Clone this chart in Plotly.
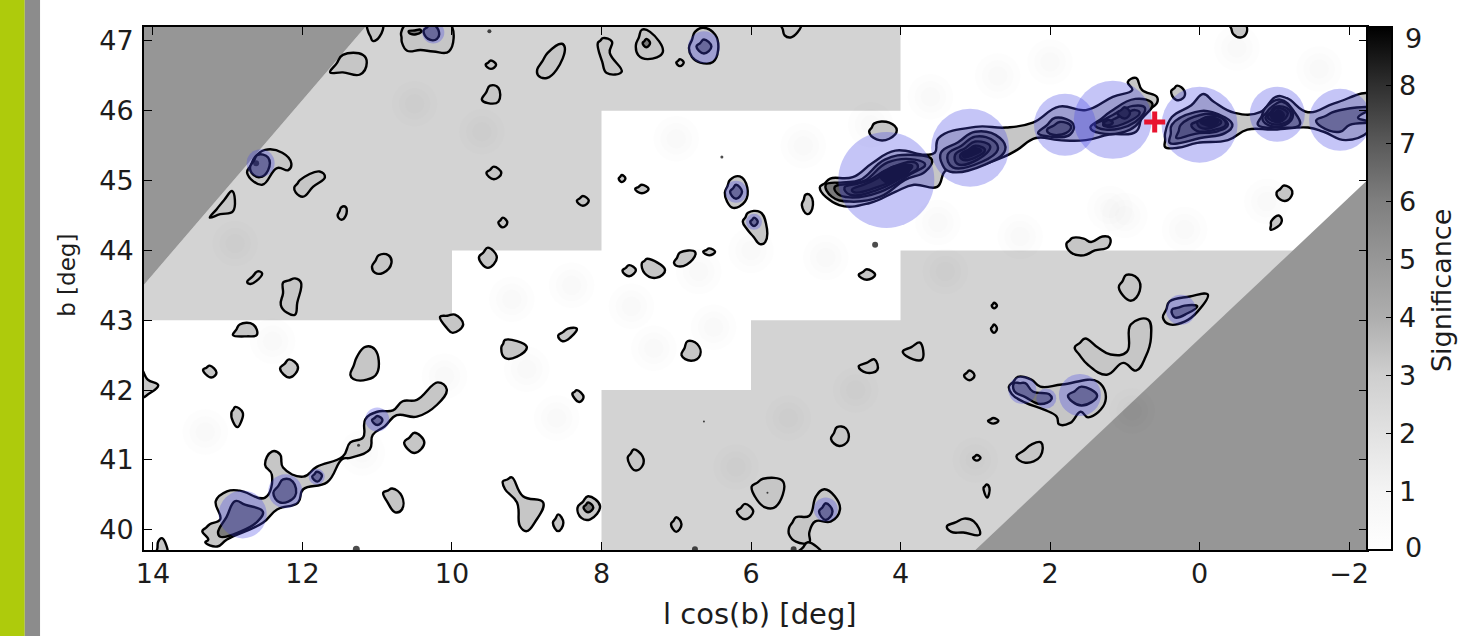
import plotly.graph_objects as go

# ---------- axes ----------
L_RANGE = [14.12, -2.24]
B_RANGE = [39.71, 47.2]
L_TICKS = [14, 12, 10, 8, 6, 4, 2, 0, -2]
B_TICKS = [40, 41, 42, 43, 44, 45, 46, 47]
SIG_TICKS = [0, 1, 2, 3, 4, 5, 6, 7, 8, 9]
SIG_LABELS = ["", "1", "2", "3", "4", "5", "6", "7", "8", ""]

# ---------- exposure regions (l, b) ----------
REGION_LIGHT_A = [(14.12, 43), (10, 43), (10, 44), (8, 44), (8, 46), (4, 46), (4, 47.2), (11.16, 47.2), (14.12, 43.51)]
REGION_LIGHT_B = [(8, 39.71), (8, 42), (6, 42), (6, 43), (4, 43), (4, 44), (-1.28, 44), (3, 39.71)]
REGION_DARK_A = [(14.12, 47.2), (11.16, 47.2), (14.12, 43.51)]
REGION_DARK_B = [(3, 39.71), (-2.24, 45.0), (-2.24, 39.71)]

# ---------- faint noise patches ----------
NOISE_L = [3.6, 2.7, 2.0, 1.2, 0.2, -0.9, -1.6, 3.5, 2.4, 1.0, 5.0, 6.7, 7.6, 9.2, 9.0, 7.3, 6.5, 13.3, 12.4, 11.2, 10.1, 8.6, 6.0, 4.6, 3.4, 0.9, -0.5, 10.5, 12.9, 7.0, 5.3, 4.4, 3.0, 8.4, 9.6, 6.2, 5.5]
NOISE_B = [46.2, 46.5, 46.7, 44.6, 44.3, 44.7, 46.6, 44.4, 44.2, 44.5, 43.9, 43.7, 43.2, 43.3, 42.3, 42.6, 42.9, 41.4, 42.7, 41.1, 42.2, 41.6, 44.0, 42.0, 43.7, 41.7, 46.9, 46.1, 44.1, 45.6, 45.5, 45.8, 41.0, 43.5, 45.7, 40.9, 41.6]
NOISE_SIZES = [46, 32, 20]

# ---------- significance contours, level 1 ----------
RIDGE_NORTH_WEST = [(5.08,44.9),(4.94,45.03),(4.64,45.05),(4.38,45.25),(4.07,45.43),(3.67,45.37),(3.54,45.4),(3.49,45.61),(3.0,45.77),(2.59,45.76),(2.23,45.83),(1.88,46.06),(1.52,46.01),(1.16,46.2),(0.9,46.3),(0.96,46.41),(0.85,46.47),(0.77,46.3),(0.57,46.2),(0.57,46.11),(0.76,45.94),(0.85,45.7),(1.21,45.66),(1.52,45.58),(1.88,45.58),(2.19,45.61),(2.44,45.44),(2.62,45.34),(3.06,45.18),(3.39,45.15),(3.51,44.91),(3.82,44.94),(4.07,44.84),(4.41,44.68),(4.82,44.65)]
RIDGE_NORTH_EAST = [(0.46,45.48),(0.46,45.68),(0.37,45.91),(0.11,46.08),(-0.05,46.24),(-0.19,46.13),(-0.47,45.97),(-0.81,45.98),(-1.02,46.2),(-1.17,46.18),(-1.45,45.98),(-1.81,46.11),(-2.3,46.23),(-2.3,45.76),(-1.96,45.58),(-1.66,45.7),(-1.45,45.76),(-1.0,45.73),(-0.64,45.73),(-0.38,45.58),(0.03,45.54),(0.29,45.47)]
RIDGE_SOUTH = [(13.34,39.98),(13.24,40.08),(13.1,40.15),(13.16,40.41),(13.01,40.55),(12.84,40.56),(12.5,40.46),(12.41,40.79),(12.5,40.93),(12.41,41.12),(12.3,41.08),(12.26,40.89),(11.99,40.76),(11.81,40.9),(11.46,41.05),(11.36,41.25),(11.19,41.32),(11.16,41.58),(11.0,41.69),(10.79,41.71),(10.66,41.84),(10.47,41.86),(10.19,42.11),(10.07,42.01),(10.2,41.79),(10.47,41.62),(10.74,41.64),(10.9,41.48),(11.06,41.36),(11.1,41.15),(11.36,41.03),(11.47,41.01),(11.67,40.68),(11.99,40.58),(12.06,40.39),(12.34,40.29),(12.53,40.1),(13.01,39.86),(13.14,39.76),(13.3,39.82),(13.26,39.86)]
BLOBS_LEVEL1 = [
 [(11.63,46.55),(11.46,46.8),(11.19,46.8),(11.14,46.69),(11.23,46.52),(11.46,46.55)],
 [(11.12,47.13),(11.06,47.0),(10.97,47.06),(10.93,47.25),(11.13,47.25)],
 [(10.68,47.12),(10.67,46.98),(10.6,46.86),(10.42,46.87),(10.25,46.85),(10.04,46.85),(10.03,47.25),(10.6,47.25)],
 [(4.42,45.7),(4.35,45.82),(4.15,45.83),(4.05,45.72),(4.15,45.6),(4.32,45.59)],
 [(5.32,44.65),(5.27,44.8),(5.2,44.78),(5.18,44.6),(5.25,44.52)],
 [(0.38,46.28),(0.3,46.36),(0.2,46.28),(0.22,46.18),(0.32,46.16)],
 [(-1.03,44.83),(-1.13,44.93),(-1.24,44.85),(-1.18,44.72),(-1.08,44.73)],
 [(-0.95,44.3),(-0.96,44.42),(-1.06,44.5),(-1.1,44.42),(-1.0,44.31)],
 [(1.78,44.1),(1.7,44.18),(1.55,44.17),(1.45,44.12),(1.3,44.2),(1.2,44.18),(1.22,44.05),(1.4,44.0),(1.55,43.93),(1.72,43.97)],
 [(-0.4,47.25),(-0.45,47.1),(-0.55,47.05),(-0.63,47.12),(-0.6,47.25)],
 [(5.6,47.25),(5.55,47.08),(5.47,47.05),(5.38,47.12),(5.33,47.25)],
 [(7.54,46.94),(7.46,47.16),(7.35,47.13),(7.18,46.84),(7.38,46.74),(7.51,46.8)],
 [(8.05,46.97),(7.98,47.04),(7.86,46.99),(7.89,46.83),(7.73,46.56),(7.93,46.54),(7.99,46.7)],
 [(7.0,46.69),(6.95,46.74),(6.9,46.69),(6.95,46.64)],
 [(6.83,46.9),(6.75,47.13),(6.64,47.19),(6.48,47.09),(6.44,46.87),(6.51,46.7),(6.68,46.69),(6.79,46.77)],
 [(7.77,45.03),(7.73,45.08),(7.68,45.03),(7.73,44.98)],
 [(7.55,44.88),(7.46,44.94),(7.37,44.88),(7.46,44.82)],
 [(6.35,44.83),(6.28,45.01),(6.15,45.06),(6.05,44.9),(6.08,44.7),(6.24,44.61),(6.32,44.7)],
 [(6.11,44.41),(6.04,44.54),(5.88,44.55),(5.8,44.39),(5.81,44.12),(5.88,44.09),(5.97,44.2),(6.05,44.3)],
 [(4.56,43.65),(4.45,43.73),(4.34,43.65),(4.45,43.58)],
 [(7.72,43.71),(7.63,43.79),(7.54,43.72),(7.63,43.63)],
 [(7.46,43.82),(7.39,43.88),(7.15,43.72),(7.26,43.61),(7.42,43.67)],
 [(7.03,43.82),(6.95,43.97),(6.75,43.98),(6.78,43.87),(6.95,43.77)],
 [(6.64,43.98),(6.56,44.03),(6.48,43.98),(6.56,43.93)],
 [(12.74,45.11),(12.64,45.33),(12.5,45.44),(12.27,45.4),(12.15,45.25),(12.19,45.15),(12.34,45.18),(12.54,44.94)],
 [(12.11,44.9),(12.03,45.01),(11.77,45.13),(11.7,45.05),(11.86,44.91),(11.99,44.77),(12.09,44.83)],
 [(13.24,44.47),(13.05,44.72),(12.94,44.85),(12.93,44.56),(13.1,44.52)],
 [(11.53,44.5),(11.48,44.62),(11.42,44.62),(11.42,44.5),(11.48,44.44)],
 [(11.07,43.77),(10.98,43.93),(10.85,43.93),(10.81,43.82),(10.92,43.68),(11.03,43.68)],
 [(12.74,43.55),(12.6,43.7),(12.54,43.67),(12.62,43.56),(12.7,43.52)],
 [(12.26,43.54),(12.1,43.6),(12.02,43.54),(12.07,43.25),(12.1,43.08),(12.21,43.11),(12.29,43.22),(12.26,43.39)],
 [(12.93,42.79),(12.84,42.94),(12.66,42.94),(12.61,42.79),(12.74,42.77)],
 [(9.55,46.66),(9.48,46.72),(9.41,46.66),(9.48,46.6)],
 [(9.6,46.16),(9.49,46.36),(9.38,46.33),(9.38,46.13),(9.52,46.11)],
 [(8.86,46.59),(8.72,46.83),(8.53,46.96),(8.49,46.9),(8.6,46.59),(8.73,46.47),(8.85,46.51)],
 [(9.54,45.11),(9.44,45.2),(9.34,45.11),(9.44,45.02)],
 [(8.33,44.71),(8.25,44.78),(8.17,44.71),(8.25,44.64)],
 [(9.38,44.4),(9.32,44.47),(9.26,44.4),(9.32,44.33)],
 [(9.64,43.9),(9.52,44.04),(9.4,43.9),(9.52,43.75)],
 [(10.16,43.05),(9.96,43.08),(9.85,42.94),(9.99,42.82),(10.07,42.89)],
 [(13.33,42.29),(13.24,42.35),(13.15,42.25),(13.22,42.18)],
 [(12.3,42.31),(12.18,42.44),(12.06,42.33),(12.17,42.18)],
 [(11.36,42.22),(11.27,42.48),(11.16,42.62),(11.03,42.58),(11.0,42.25),(11.14,42.15),(11.32,42.16)],
 [(12.95,41.68),(12.9,41.76),(12.8,41.68),(12.82,41.55),(12.87,41.47),(12.93,41.55)],
 [(10.64,41.25),(10.5,41.39),(10.37,41.25),(10.5,41.1)],
 [(10.92,40.53),(10.8,40.59),(10.67,40.48),(10.67,40.29),(10.76,40.25),(10.86,40.39)],
 [(9.34,42.61),(9.29,42.72),(9.0,42.62),(9.13,42.48),(9.29,42.46)],
 [(8.39,41.95),(8.33,42.0),(8.24,41.9),(8.3,41.83)],
 [(8.58,42.78),(8.45,42.88),(8.33,42.88),(8.42,42.75),(8.52,42.7)],
 [(9.32,40.69),(9.2,40.75),(9.05,40.48),(8.78,40.39),(8.89,40.11),(9.0,39.98),(9.09,40.05),(9.13,40.39),(9.29,40.58)],
 [(8.65,40.1),(8.58,40.22),(8.51,40.1),(8.58,39.98)],
 [(8.32,40.32),(8.18,40.48),(8.02,40.34),(8.15,40.15),(8.27,40.17)],
 [(13.95,39.65),(13.93,39.83),(13.88,39.88),(13.81,39.65)],
 [(14.2,42.4),(14.07,42.15),(13.93,42.07),(14.05,41.95),(14.2,41.88)],
 [(6.93,42.5),(6.85,42.7),(6.72,42.66),(6.68,42.5),(6.8,42.42)],
 [(4.56,42.34),(4.35,42.44),(4.31,42.29),(4.46,42.25)],
 [(3.97,42.55),(3.74,42.68),(3.71,42.44),(3.83,42.44)],
 [(2.78,43.21),(2.75,43.25),(2.71,43.21),(2.75,43.17)],
 [(2.79,42.88),(2.75,42.94),(2.71,42.88),(2.75,42.82)],
 [(3.15,42.21),(3.08,42.28),(3.01,42.21),(3.08,42.14)],
 [(2.83,41.56),(2.76,41.6),(2.69,41.56),(2.76,41.52)],
 [(3.03,41.03),(2.98,41.07),(2.93,41.03),(2.98,40.99)],
 [(2.89,40.6),(2.85,40.65),(2.81,40.6),(2.84,40.46)],
 [(2.45,41.05),(2.25,41.22),(2.12,41.25),(2.13,41.05),(2.33,40.96)],
 [(3.38,40.05),(3.15,40.16),(3.02,40.12),(2.94,39.93),(3.16,39.96),(3.32,39.97)],
 [(4.93,41.3),(4.85,41.47),(4.73,41.45),(4.7,41.28),(4.82,41.2)],
 [(7.65,41.03),(7.57,41.15),(7.45,41.05),(7.45,40.92),(7.55,40.85)],
 [(7.07,40.08),(7.0,40.18),(6.93,40.08),(7.0,39.97)],
 [(6.19,40.26),(6.08,40.37),(5.97,40.26),(6.08,40.15)],
 [(5.99,40.62),(5.84,40.73),(5.57,40.69),(5.67,40.33),(5.81,40.32),(5.95,40.48)],
 [(5.49,40.03),(5.4,40.18),(5.22,40.2),(5.13,40.48),(5.02,40.58),(4.88,40.48),(4.81,40.29),(4.93,40.12),(5.14,40.12),(5.22,39.96),(5.22,39.82),(5.4,39.83),(5.49,39.93)],
 [(5.38,39.66),(5.24,39.82),(5.05,39.66)],
 [(1.08,43.47),(0.98,43.65),(0.83,43.6),(0.8,43.42),(0.92,43.28)],
 [(1.67,42.61),(1.53,42.74),(1.36,42.61),(1.19,42.51),(0.97,42.55),(0.92,42.94),(0.69,43.01),(0.65,42.75),(0.72,42.48),(0.85,42.28),(1.02,42.39),(1.24,42.22),(1.49,42.36),(1.61,42.51)],
 [(2.55,42.05),(2.43,42.19),(2.25,42.15),(2.13,42.05),(1.84,42.08),(1.36,42.12),(1.26,41.84),(1.49,41.61),(1.59,41.69),(1.73,41.53),(1.88,41.51),(1.91,41.62),(2.08,41.72),(2.33,41.82),(2.51,41.94)],
 [(0.49,43.04),(0.4,43.27),(0.13,43.34),(-0.11,43.37),(0.03,43.12),(0.2,42.98),(0.4,42.94)],
]

# ---------- significance contours, higher levels ----------
BLOBS_LEVEL2 = [
 [(5.0,44.94),(4.54,45.01),(4.21,45.3),(3.87,45.37),(3.58,45.3),(3.67,45.13),(3.94,45.01),(4.27,44.77),(4.68,44.7),(4.92,44.77)],
 [(3.46,45.4),(3.0,45.7),(2.67,45.61),(2.6,45.44),(2.87,45.23),(3.34,45.13),(3.44,45.23)],
 [(2.16,45.68),(1.93,45.9),(1.69,45.81),(1.73,45.66),(2.0,45.63)],
 [(1.46,45.76),(1.19,45.99),(0.86,46.17),(0.63,46.1),(0.76,45.9),(0.93,45.73),(1.33,45.68)],
 [(0.4,45.54),(0.37,45.8),(0.06,45.98),(-0.17,45.98),(-0.44,45.8),(-0.34,45.68),(-0.01,45.61),(0.25,45.54)],
 [(-0.78,45.8),(-0.88,46.04),(-1.08,46.16),(-1.27,45.98),(-1.34,45.8),(-1.08,45.76)],
 [(-1.56,45.86),(-1.81,45.99),(-2.3,46.04),(-2.12,45.9),(-2.3,45.84),(-2.01,45.8),(-1.88,45.7),(-1.63,45.77)],
 [(13.13,39.96),(12.9,40.41),(12.77,40.36),(12.53,40.26),(12.6,40.12),(12.84,39.97),(13.1,39.9)],
 [(12.39,40.53),(12.26,40.72),(12.13,40.69),(12.1,40.48),(12.3,40.39)],
 [(11.87,40.76),(11.81,40.83),(11.74,40.78),(11.8,40.69)],
 [(11.07,41.57),(11.0,41.63),(10.93,41.57),(11.0,41.5)],
 [(12.7,45.2),(12.6,45.37),(12.46,45.33),(12.46,45.15),(12.57,45.05),(12.68,45.11)],
 [(10.38,47.15),(10.28,47.25),(10.18,47.15),(10.2,47.03),(10.32,47.03)],
 [(10.58,47.14),(10.42,47.16),(10.42,47.12),(10.55,47.1)],
 [(7.45,46.97),(7.4,47.03),(7.35,46.97),(7.4,46.91)],
 [(6.73,46.92),(6.63,47.02),(6.53,46.92),(6.63,46.82)],
 [(6.28,44.84),(6.2,44.94),(6.12,44.84),(6.2,44.74)],
 [(6.01,44.41),(5.96,44.47),(5.91,44.41),(5.96,44.35)],
 [(8.24,40.32),(8.18,40.39),(8.11,40.32),(8.18,40.25)],
 [(5.09,40.26),(5.0,40.38),(4.91,40.26),(5.0,40.14)],
 [(2.48,42.1),(2.33,42.1),(2.23,41.98),(2.01,41.94),(1.98,41.87),(2.13,41.8),(2.33,41.9),(2.48,41.99)],
 [(1.76,41.92),(1.58,42.05),(1.37,41.92),(1.58,41.78)],
 [(0.37,43.15),(0.2,43.21),(0.03,43.2),(0.16,43.1),(0.33,43.04)],
]
BLOBS_LEVEL3 = [
 [(4.88,44.91),(4.48,45.0),(4.17,45.26),(3.81,45.3),(3.67,45.23),(3.87,45.09),(4.27,44.84),(4.68,44.76),(4.84,44.81)],
 [(3.37,45.37),(3.0,45.63),(2.74,45.56),(2.7,45.44),(2.91,45.27),(3.3,45.19)],
 [(2.04,45.73),(1.87,45.84),(1.72,45.78),(1.79,45.68),(2.0,45.67)],
 [(1.4,45.8),(1.16,45.94),(0.89,46.07),(0.73,46.04),(0.86,45.84),(1.26,45.73)],
 [(0.31,45.61),(0.25,45.8),(-0.01,45.94),(-0.21,45.94),(-0.38,45.8),(-0.25,45.71),(0.06,45.67)],
 [(-0.84,45.9),(-0.95,46.04),(-1.11,46.13),(-1.25,45.94),(-1.15,45.8),(-0.91,45.8)],
]
BLOBS_LEVEL4 = [
 [(4.75,44.9),(4.41,45.01),(4.14,45.18),(3.81,45.26),(3.77,45.18),(3.94,45.07),(4.3,44.87),(4.68,44.8)],
 [(3.27,45.37),(3.0,45.56),(2.8,45.49),(2.97,45.3),(3.24,45.24)],
 [(1.29,45.8),(1.09,45.91),(0.86,46.01),(0.8,45.97),(0.96,45.84),(1.23,45.77)],
 [(0.11,45.8),(-0.09,45.91),(-0.29,45.9),(-0.35,45.8),(-0.21,45.73),(0.03,45.71)],
 [(-0.88,45.9),(-1.02,46.06),(-1.2,46.01),(-1.2,45.87),(-0.98,45.81)],
]
BLOBS_LEVEL5 = [
 [(4.65,44.87),(4.35,45.01),(4.11,45.16),(3.85,45.21),(3.94,45.09),(4.3,44.91),(4.61,44.83)],
 [(3.2,45.37),(3.0,45.5),(2.87,45.44),(3.0,45.33),(3.17,45.3)],
 [(1.29,45.83),(1.22,45.87),(1.16,45.83),(1.23,45.79)],
 [(1.1,45.97),(1.0,46.05),(0.93,45.97),(1.0,45.89)],
 [(0.03,45.84),(-0.1,45.91),(-0.29,45.84),(-0.17,45.76),(-0.01,45.76)],
 [(-0.91,45.91),(-1.03,46.04),(-1.18,45.97),(-1.07,45.84)],
]
BLOBS_LEVEL6 = [
 [(4.28,45.09),(4.08,45.21),(3.84,45.21),(3.94,45.09),(4.17,44.97)],
 [(3.17,45.4),(3.03,45.47),(2.92,45.43),(3.04,45.36),(3.15,45.33)],
 [(-0.01,45.84),(-0.15,45.9),(-0.25,45.84),(-0.15,45.78)],
 [(-0.95,45.93),(-1.05,46.01),(-1.13,45.94),(-1.05,45.85)],
]

# ---------- tiny peaks ----------
DOT_L = [6.39, 4.34, 12.62, 9.5, 11.25, 6.63, 5.78, 11.28, 6.75, 5.43]
DOT_B = [45.34, 44.08, 45.25, 47.14, 41.21, 41.55, 40.53, 39.72, 39.72, 39.72]
DOT_SIZE = [3, 6, 6, 4, 3, 2, 2, 7, 6, 6]

# ---------- source regions ----------
SRC_L = [4.19, 3.07, 1.8, 1.16, 0.0, -1.04, -1.88, 12.56, 10.25, 6.63, 6.2, 5.96, 5.0, 2.37, 2.05, 1.6, 0.25, 12.8, 12.23, 11.81, 11.0]
SRC_B = [45.01, 45.47, 45.8, 45.87, 45.8, 45.95, 45.87, 45.25, 47.12, 46.91, 44.84, 44.41, 40.29, 42.0, 41.88, 41.93, 43.15, 40.22, 40.55, 40.76, 41.58]
SRC_D = [96, 78, 62, 78, 76, 55, 62, 28, 22, 32, 22, 16, 24, 28, 20, 42, 30, 48, 34, 16, 24]

# ---------- marker ----------
CROSS_L = [0.6]
CROSS_B = [45.84]

# ---------- colour scale ----------
SIG_SCALE = [[0, "#ffffff"], [1/9, "#f4f4f4"], [2/9, "#e2e2e2"], [3/9, "#cfcfcf"], [4/9, "#aeaeae"],
             [5/9, "#979797"], [6/9, "#7f7f7f"], [7/9, "#5a5a5a"], [8/9, "#2f2f2f"], [1, "#000000"]]

TEXT = "#1c1c1c"
FONT = "DejaVu Sans"
fig = go.Figure()


def poly(pts, fill, line=None, width=2.2):
    if line:
        # start the closed spline half way along its first edge, so it has no corner
        mid = ((pts[0][0] + pts[1][0]) / 2, (pts[0][1] + pts[1][1]) / 2)
        path = [mid] + pts[1:] + [pts[0], mid]
        style = dict(color=line, width=width, shape="spline", smoothing=1.25)
    else:
        path = pts + [pts[0]]
        style = dict(width=0, color="rgba(0,0,0,0)")
    fig.add_trace(go.Scatter(x=[p[0] for p in path], y=[p[1] for p in path], mode="lines", fill="toself",
                             fillcolor=fill, hoverinfo="skip", showlegend=False, line=style))


for region, colour in [(REGION_LIGHT_A, "#d3d3d3"), (REGION_LIGHT_B, "#d3d3d3"),
                       (REGION_DARK_A, "#969696"), (REGION_DARK_B, "#969696")]:
    poly(region, colour)

for size in NOISE_SIZES:
    fig.add_trace(go.Scatter(x=NOISE_L, y=NOISE_B, mode="markers", hoverinfo="skip", showlegend=False,
                             marker=dict(size=size, color="rgba(0,0,0,0.009)", line=dict(width=0))))

for pts in [RIDGE_NORTH_WEST, RIDGE_NORTH_EAST, RIDGE_SOUTH] + BLOBS_LEVEL1:
    poly(pts, "#c6c6c6", "#000000", 2.4)
for level, fill, w in [(BLOBS_LEVEL2, "#7a7a7a", 2.4), (BLOBS_LEVEL3, "#5a5a5a", 2.4), (BLOBS_LEVEL4, "#3a3a3a", 2.4),
                       (BLOBS_LEVEL5, "#1c1c1c", 2.4), (BLOBS_LEVEL6, "#000000", 2.0)]:
    for pts in level:
        poly(pts, fill, "#000000", w)

fig.add_trace(go.Scatter(x=DOT_L, y=DOT_B, mode="markers", hoverinfo="skip", showlegend=False,
                         marker=dict(size=DOT_SIZE, color="#000000", line=dict(width=0))))
fig.add_trace(go.Scatter(x=SRC_L, y=SRC_B, mode="markers", hoverinfo="skip", showlegend=False,
                         marker=dict(size=SRC_D, color="rgba(70,70,230,0.45)", line=dict(width=0))))
fig.add_trace(go.Scatter(x=CROSS_L, y=CROSS_B, mode="markers", hoverinfo="skip", showlegend=False,
                         marker=dict(symbol="cross-thin", size=15, line=dict(color="#e8142f", width=5))))

# hidden trace that carries the significance colour bar
fig.add_trace(go.Scatter(
    x=[L_RANGE[0]], y=[B_RANGE[0]], mode="markers", hoverinfo="skip", showlegend=False,
    marker=dict(size=1, opacity=0, color=[0], cmin=0, cmax=9, colorscale=SIG_SCALE, showscale=True,
                colorbar=dict(
                    x=1.0, xanchor="left", xpad=0, y=1, yanchor="top", ypad=0,
                    lenmode="fraction", len=1, thickness=25, thicknessmode="pixels",
                    outlinecolor="#000000", outlinewidth=2, bordercolor="rgba(0,0,0,0)", borderwidth=0,
                    tickmode="array", tickvals=SIG_TICKS, ticktext=SIG_LABELS,
                    ticks="inside", ticklen=7, tickwidth=1, tickcolor="#000000",
                    tickfont=dict(family=FONT, size=27, color=TEXT),
                ))))

axis_common = dict(showgrid=False, zeroline=False, showline=True, mirror="ticks", linecolor="#000000", linewidth=2,
                   ticks="inside", ticklen=8, tickwidth=1.3, tickcolor="#000000",
                   tickfont=dict(family=FONT, size=27, color=TEXT))


def label(text, x, y, size, angle=0, xref="paper", yref="paper", xanchor="center"):
    return dict(text=text, xref=xref, yref=yref, x=x, y=y, xanchor=xanchor, yanchor="middle", showarrow=False,
                textangle=angle, font=dict(family=FONT, size=size, color=TEXT))


fig.update_layout(
    width=1459, height=636, autosize=False,
    margin=dict(l=144, r=92, t=27, b=86, autoexpand=False),
    paper_bgcolor="#ffffff", plot_bgcolor="#ffffff", showlegend=False,
    xaxis=dict(range=L_RANGE, tickmode="array", tickvals=L_TICKS, ticklabelstandoff=-1, **axis_common),
    yaxis=dict(range=B_RANGE, tickmode="array", tickvals=B_TICKS, ticklabelstandoff=3, **axis_common),
    shapes=[
        dict(type="rect", xref="paper", yref="paper", x0=-0.118, x1=-0.0975, y0=-0.17, y1=1.06,
             fillcolor="#aecb0c", line=dict(width=0), layer="below"),
        dict(type="rect", xref="paper", yref="paper", x0=-0.0975, x1=-0.0850, y0=-0.17, y1=1.06,
             fillcolor="#8c8c8c", line=dict(width=0), layer="below"),
    ],
    annotations=[
        label("9", 1.0295, 47.03, 27, yref="y", xanchor="left"),
        label("0", 1.0295, 39.75, 27, yref="y", xanchor="left"),
        label("l cos(b) [deg]", 0.5037, -0.1224, 29),
        label("b [deg]", -0.063, 0.526, 23, angle=-90),
        label("Significance", 1.0605, 0.497, 27, angle=-90),
    ],
)

fig.write_html("out.html", config={"displayModeBar": False},
               post_script="document.body.style.margin='0';window.dispatchEvent(new Event('resize'));")
